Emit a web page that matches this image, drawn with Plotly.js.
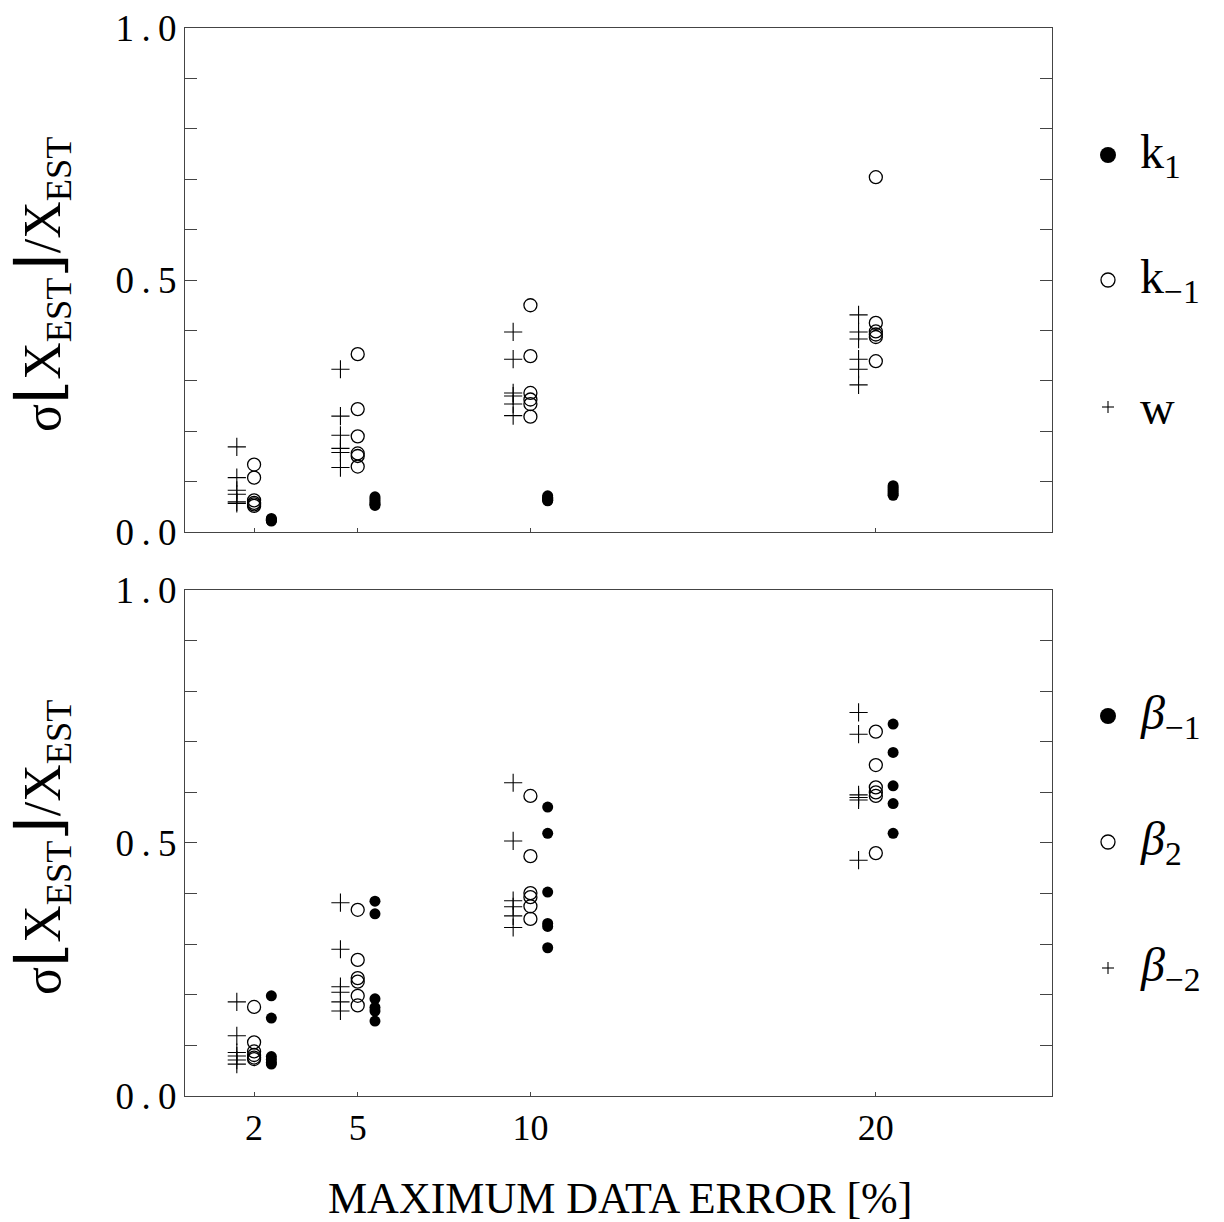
<!DOCTYPE html>
<html>
<head>
<meta charset="utf-8">
<script src="https://cdn.plot.ly/plotly-3.0.1.min.js"></script>
<style>html,body{margin:0;padding:0;background:#fff;}#chart{width:1224px;height:1222px;}</style>
</head>
<body>
<div id="chart"></div>
<script>
// Maximum data error levels [%]
const levels = [2, 5, 10, 20];
const xTickLabels = ['2', '5', '10', '20'];

// Top panel: relative error per parameter, one list per error level
const k1 = [
  [0.027, 0.025, 0.024, 0.023, 0.022],
  [0.070, 0.066, 0.062, 0.058, 0.055, 0.053],
  [0.072, 0.069, 0.067, 0.065, 0.063, 0.062],
  [0.092, 0.088, 0.084, 0.080, 0.076, 0.073]
];
const kMinus1 = [
  [0.134, 0.108, 0.063, 0.058, 0.055, 0.052],
  [0.353, 0.244, 0.190, 0.156, 0.151, 0.130],
  [0.450, 0.349, 0.276, 0.263, 0.254, 0.229],
  [0.704, 0.415, 0.398, 0.392, 0.387, 0.339]
];
const w = [
  [0.169, 0.108, 0.083, 0.075, 0.060, 0.057],
  [0.323, 0.230, 0.192, 0.166, 0.158, 0.128],
  [0.397, 0.343, 0.276, 0.270, 0.254, 0.231],
  [0.431, 0.397, 0.383, 0.343, 0.323, 0.292]
];

// Bottom panel
const betaMinus1 = [
  [0.198, 0.154, 0.078, 0.072, 0.066, 0.063],
  [0.385, 0.360, 0.192, 0.175, 0.168, 0.148],
  [0.571, 0.519, 0.403, 0.341, 0.335, 0.293],
  [0.735, 0.679, 0.613, 0.578, 0.519]
];
const beta2 = [
  [0.176, 0.106, 0.088, 0.081, 0.076, 0.073],
  [0.368, 0.269, 0.233, 0.226, 0.198, 0.179],
  [0.593, 0.474, 0.401, 0.393, 0.375, 0.350],
  [0.720, 0.654, 0.610, 0.600, 0.593, 0.480]
];
const betaMinus2 = [
  [0.186, 0.119, 0.086, 0.079, 0.071, 0.063],
  [0.382, 0.290, 0.216, 0.205, 0.186, 0.168],
  [0.619, 0.504, 0.386, 0.374, 0.356, 0.333],
  [0.758, 0.715, 0.595, 0.590, 0.585, 0.466]
];

const yTickVals = [0, 0.5, 1.0];
const yTickText = ['0.0', '0.5', '1.0'];

const FONT = '"Liberation Serif", "DejaVu Serif", serif';
const LINE = '#444';

function flatten(groups, offset) {
  const xs = [], ys = [];
  groups.forEach((g, i) => g.forEach(v => { xs.push(levels[i] + offset); ys.push(v); }));
  return {x: xs, y: ys};
}

const styles = {
  filled: {symbol: 'circle', size: 11, color: '#000', line: {width: 0}},
  open:   {symbol: 'circle-open', size: 13, color: '#000', line: {width: 1.3, color: '#000'}},
  plus:   {symbol: 'cross-thin-open', size: 13, color: '#000', line: {width: 1.1, color: '#000'}}
};

function trace(groups, offset, style, xa, ya, name) {
  const d = flatten(groups, offset);
  return {x: d.x, y: d.y, xaxis: xa, yaxis: ya, type: 'scatter', mode: 'markers',
          name: name, marker: style, showlegend: false, hoverinfo: 'x+y'};
}

const data = [
  trace(w, -0.5, styles.plus, 'x', 'y', 'w'),
  trace(kMinus1, 0, styles.open, 'x', 'y', 'k-1'),
  trace(k1, 0.5, styles.filled, 'x', 'y', 'k1'),
  trace(betaMinus2, -0.5, styles.plus, 'x2', 'y2', 'beta-2'),
  trace(beta2, 0, styles.open, 'x2', 'y2', 'beta2'),
  trace(betaMinus1, 0.5, styles.filled, 'x2', 'y2', 'beta-1')
];

const yAxisBase = {
  range: [0, 1], tickmode: 'array', tickvals: yTickVals,
  ticktext: yTickText.map(t => t.split('').join('\u2009')),
  ticks: 'inside', ticklen: 12, tickwidth: 1, tickcolor: LINE,
  minor: {dtick: 0.1, tick0: 0, ticks: 'inside', ticklen: 12, tickwidth: 1, tickcolor: LINE, showgrid: false},
  showline: true, linecolor: LINE, linewidth: 1, mirror: 'ticks',
  showgrid: false, zeroline: false,
  tickfont: {family: FONT, size: 37, color: '#000'}, fixedrange: true
};
const xAxisBase = {
  range: [0, 25.1], tickmode: 'array', tickvals: levels, ticktext: xTickLabels,
  ticks: 'inside', ticklen: 4, tickwidth: 1, tickcolor: LINE,
  showline: true, linecolor: LINE, linewidth: 1, mirror: true,
  showgrid: false, zeroline: false,
  tickfont: {family: FONT, size: 36, color: '#000'}, fixedrange: true
};

const topY = 0.528, botY = 0.4738;
function py(px) { return (1096 - px) / 1068; }
function pxX(px) { return (px - 185) / 867; }

const legendItems = [
  {y: 155, kind: 'filled', text: 'k<sub>1</sub>'},
  {y: 280, kind: 'open', text: 'k<sub>\u22121</sub>'},
  {y: 407, kind: 'plus', text: 'w'},
  {y: 716, kind: 'filled', text: '<i>β</i><sub>\u22121</sub>'},
  {y: 842, kind: 'open', text: '<i>β</i><sub>2</sub>'},
  {y: 968, kind: 'plus', text: '<i>β</i><sub>\u22122</sub>'}
];

const shapes = [];
const annotations = [];
const mx = pxX(1108);
legendItems.forEach(it => {
  const yy = py(it.y);
  if (it.kind === 'filled') {
    shapes.push({type: 'circle', xref: 'paper', yref: 'paper', xsizemode: 'pixel', ysizemode: 'pixel',
      xanchor: mx, yanchor: yy, x0: -8, x1: 8, y0: -8, y1: 8, fillcolor: '#000', line: {width: 0}});
  } else if (it.kind === 'open') {
    shapes.push({type: 'circle', xref: 'paper', yref: 'paper', xsizemode: 'pixel', ysizemode: 'pixel',
      xanchor: mx, yanchor: yy, x0: -7, x1: 7, y0: -7, y1: 7, line: {width: 1.3, color: '#000'}});
  } else {
    shapes.push({type: 'line', xref: 'paper', yref: 'paper', xsizemode: 'pixel', ysizemode: 'pixel',
      xanchor: mx, yanchor: yy, x0: -6, x1: 6, y0: 0, y1: 0, line: {width: 1.1, color: '#000'}});
    shapes.push({type: 'line', xref: 'paper', yref: 'paper', xsizemode: 'pixel', ysizemode: 'pixel',
      xanchor: mx, yanchor: yy, x0: 0, x1: 0, y0: -6, y1: 6, line: {width: 1.1, color: '#000'}});
  }
  annotations.push({xref: 'paper', yref: 'paper', x: pxX(1138), y: yy, xanchor: 'left', yanchor: 'middle',
    text: it.text, showarrow: false, font: {family: FONT, size: 48, color: '#000'}});
});

const yTitle = 'σ<span style="font-size:62px">⌊</span>X<sub>EST</sub><span style="font-size:62px">⌋</span>/X<sub>EST</sub>';
annotations.push({xref: 'paper', yref: 'paper', x: pxX(42), y: py(285), xanchor: 'center', yanchor: 'middle',
  textangle: -90, text: yTitle, showarrow: false, font: {family: FONT, size: 52, color: '#000'}});
annotations.push({xref: 'paper', yref: 'paper', x: pxX(42), y: py(848), xanchor: 'center', yanchor: 'middle',
  textangle: -90, text: yTitle, showarrow: false, font: {family: FONT, size: 52, color: '#000'}});
annotations.push({xref: 'paper', yref: 'paper', x: pxX(620), y: py(1198), xanchor: 'center', yanchor: 'middle',
  text: 'MAXIMUM DATA ERROR [%]', showarrow: false, font: {family: FONT, size: 44, color: '#000'}});

const layout = {
  width: 1224, height: 1222,
  margin: {l: 185, r: 172, t: 28, b: 126},
  paper_bgcolor: '#fff', plot_bgcolor: '#fff',
  showlegend: false,
  xaxis: Object.assign({}, xAxisBase, {anchor: 'y', showticklabels: false}),
  yaxis: Object.assign({}, yAxisBase, {domain: [topY, 1], anchor: 'x'}),
  xaxis2: Object.assign({}, xAxisBase, {anchor: 'y2'}),
  yaxis2: Object.assign({}, yAxisBase, {domain: [0, botY], anchor: 'x2'}),
  shapes: shapes,
  annotations: annotations
};

Plotly.newPlot('chart', data, layout, {displayModeBar: false, staticPlot: true});
</script>
</body>
</html>
